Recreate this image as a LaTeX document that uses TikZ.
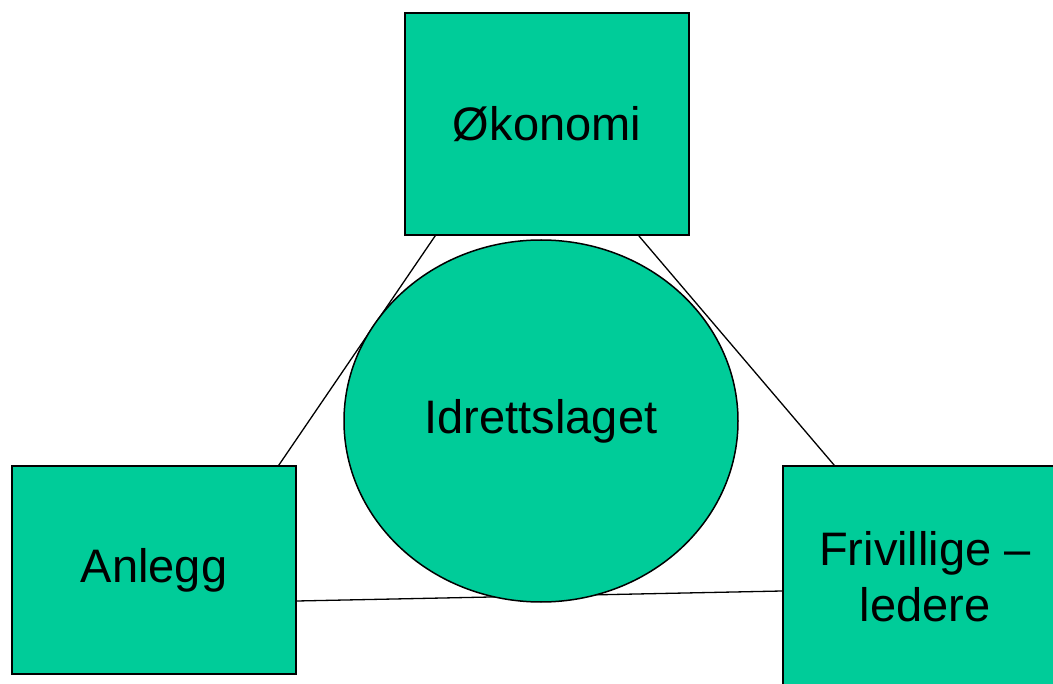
\documentclass[tikz,border=0pt]{standalone}
\usepackage{fontspec}
\setmainfont{Liberation Sans}
\usetikzlibrary{shapes.geometric,backgrounds}
\definecolor{teal}{HTML}{00CC99}
\tikzset{
  boxnode/.style={draw=black, line width=1.5pt, fill=teal, inner sep=0pt, minimum width=284pt, align=center,
    font=\fontsize{47}{56}\selectfont},
  link/.style={draw=black, line width=1.3pt}
}
\begin{document}
\begin{tikzpicture}[x=1pt,y=-1pt]
\useasboundingbox (0,0) rectangle (1053,684);
\clip (0,0) rectangle (1053,684);
\node[boxnode, minimum height=222pt] (oko) at (547,124) {\raisebox{-1pt}{Økonomi}};
\node[boxnode, minimum height=208pt] (anl) at (154,570) {\raisebox{-4pt}{Anlegg}};
\node[boxnode, minimum height=222pt] (friv) at (925,577) {Frivillige –\\ledere};
\node[ellipse, draw=black, line width=1.5pt, fill=teal, minimum width=394pt, minimum height=362pt, inner sep=0pt,
  font=\fontsize{47}{56}\selectfont] (idr) at (541,421) {\raisebox{-5pt}{Idrettslaget}};
\begin{pgfonlayer}{background}
\fill[white] (0,0) rectangle (1053,684);
\path[link] ([xshift=31pt]oko.south west) -- ([xshift=-18pt]anl.north east);
\path[link] ([xshift=-51pt]oko.south east) -- ([xshift=52pt]friv.north west);
\path[link] ([yshift=-31pt]anl.east) -- ([yshift=-14pt]friv.west);
\end{pgfonlayer}
\end{tikzpicture}
\end{document}
